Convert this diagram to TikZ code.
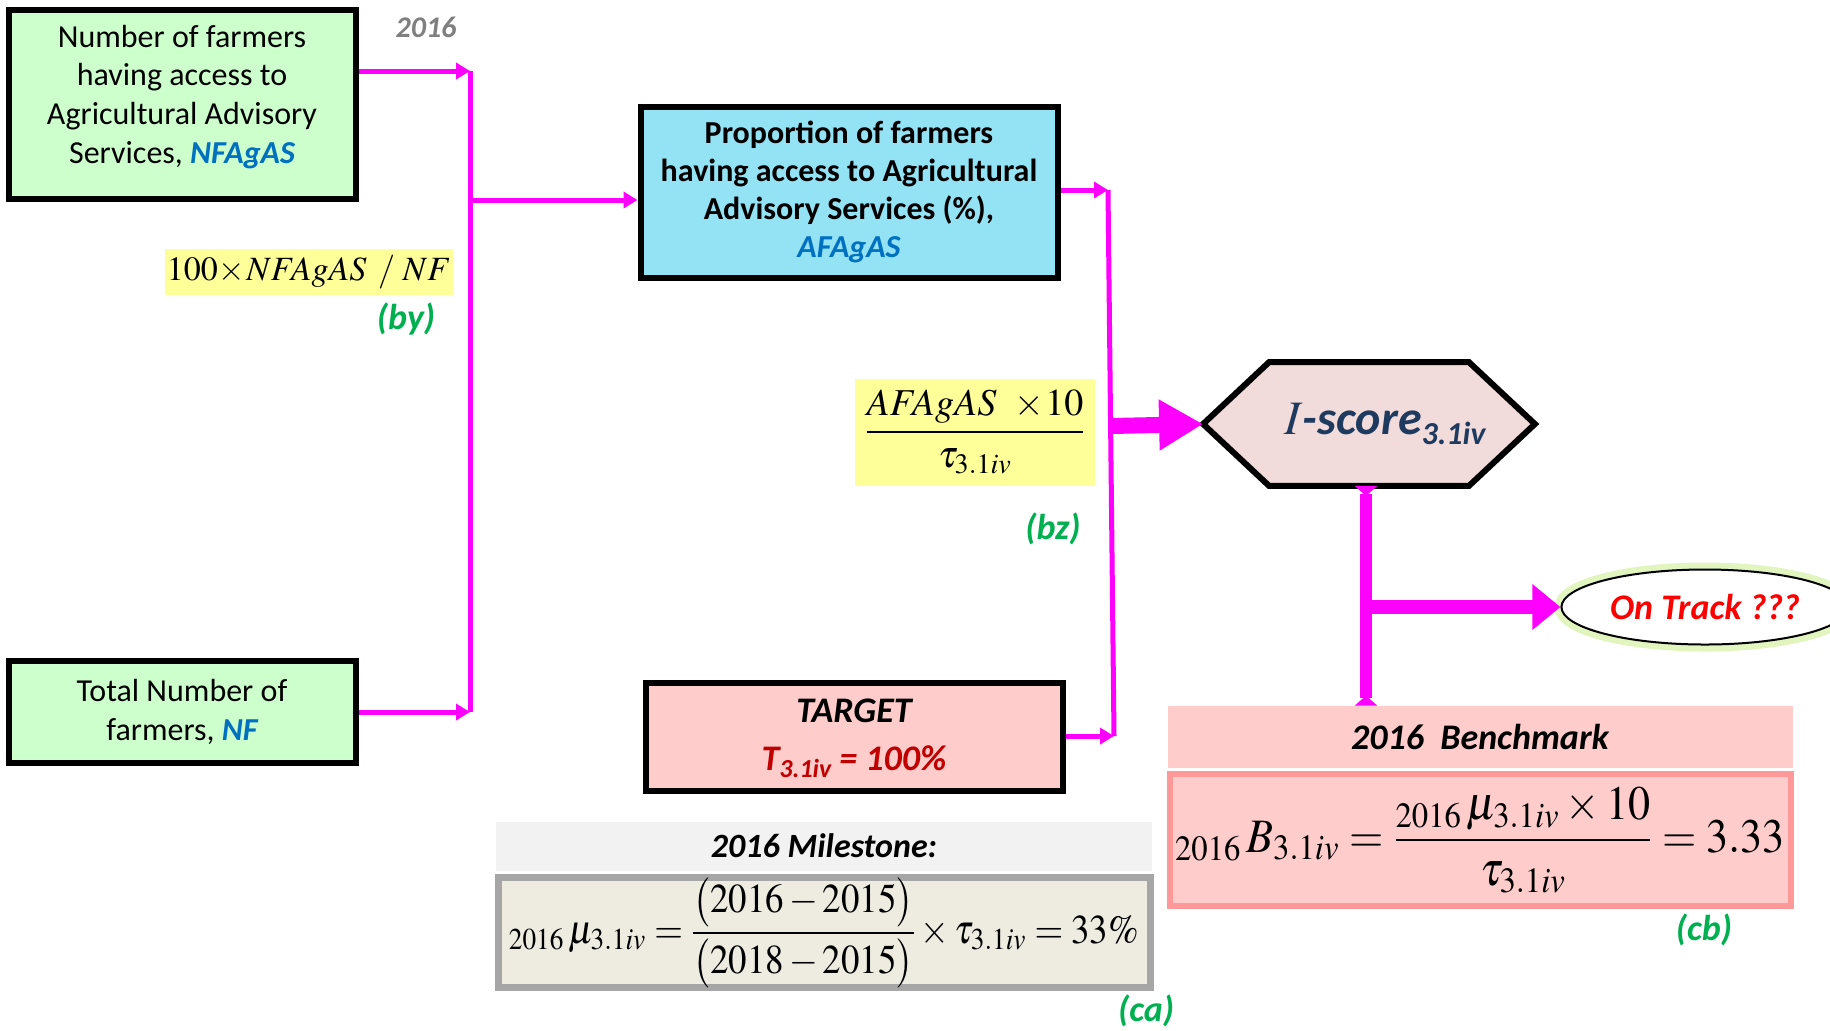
\documentclass[tikz,border=0pt]{standalone}
\usepackage{amsmath}
\usepackage{mathptmx}
\usepackage{graphicx}
\usepackage[no-math]{fontspec}
\setmainfont{Carlito}
\usetikzlibrary{arrows.meta,positioning,shapes.geometric,backgrounds}

\definecolor{mag}{HTML}{FF00FF}
\definecolor{boxgreen}{HTML}{CCFFCC}
\definecolor{boxblue}{HTML}{93E3F5}
\definecolor{txtblue}{HTML}{0070C0}
\definecolor{lblgreen}{HTML}{00B050}
\definecolor{hlyellow}{HTML}{FFFF99}
\definecolor{hexfill}{HTML}{F2DCDB}
\definecolor{hextext}{HTML}{1F3A5F}
\definecolor{tgtfill}{HTML}{FFCCCC}
\definecolor{tgtred}{HTML}{C00000}
\definecolor{mshead}{HTML}{F2F2F2}
\definecolor{msfill}{HTML}{EEECE1}
\definecolor{msdraw}{HTML}{A6A6A6}
\definecolor{bmdraw}{HTML}{FF9999}
\definecolor{glow}{HTML}{E2F5BE}
\definecolor{yeargray}{HTML}{7F7F7F}

\newcommand{\lowsub}[2]{\raisebox{-0.4ex}{\fontsize{#1}{#1}\selectfont #2}}

\begin{document}
\begin{tikzpicture}[x=0.5pt,y=-0.5pt,line join=miter,
	box/.style={draw=black,line width=3pt,align=center,inner sep=2pt,font=\fontsize{16}{19.3}\selectfont},
	lbl/.style={font=\fontsize{18}{20}\selectfont\bfseries\itshape,text=lblgreen},
	hl/.style={fill=hlyellow,inner sep=0pt},
	wire/.style={draw=mag,line width=2.5pt},
	tip/.style={-{Triangle[length=7pt,width=8pt]}}]
	\useasboundingbox (0,0) rectangle (1830,1030);
	% inputs
	\node[box,fill=boxgreen,minimum width=173.5pt,minimum height=94.5pt,text depth=10pt] (nfagas) at (182,104)
		{Number of farmers\\having access to\\Agricultural Advisory\\Services, \textcolor{txtblue}{\bfseries\itshape NFAgAS}};
	\node[box,fill=boxgreen,minimum width=173.5pt,minimum height=51pt] (nf) at (182,712)
		{Total Number of\\farmers, \textcolor{txtblue}{\bfseries\itshape NF}};
	\node[font=\fontsize{15}{18}\selectfont\bfseries\itshape,text=yeargray] (year) at (426,27) {2016};
	\node[hl,minimum width=144pt,minimum height=23pt,font=\fontsize{17}{18}\selectfont] (eqa) at (309,272)
		{$100\!\times\! NFAgAS\ \,/\ NF$};
	\node[lbl] (by) at (406,319) {(by)};
	% indicator
	\node[box,fill=boxblue,minimum width=208.5pt,minimum height=85.5pt,font=\fontsize{16}{19}\selectfont\bfseries] (afagas) at (849,192)
		{Proportion of farmers\\having access to Agricultural\\Advisory Services (\%),\\\textcolor{txtblue}{\itshape AFAgAS}};
	\node[hl,minimum width=120pt,minimum height=53.5pt,font=\fontsize{19}{22}\selectfont] (eqb) at (975,432)
		{$\dfrac{AFAgAS\ \,\times\!10}{\tau_{3.1iv}}$};
	\node[lbl] (bz) at (1053,529) {(bz)};
	\node[box,fill=tgtfill,minimum width=208.5pt,minimum height=54pt,font=\fontsize{18}{24}\selectfont\bfseries\itshape,text depth=2pt] (target) at (854,737)
		{TARGET\\\textcolor{tgtred}{T\lowsub{13}{3.1iv} = 100\%}};
	% score
	\node[minimum width=165.5pt,minimum height=61.5pt,inner sep=0pt,text=hextext,font=\fontsize{24}{28}\selectfont\bfseries\itshape] (iscore) at (1369,424)
		{\hspace*{16pt}$I$-score\lowsub{16}{3.1iv}};
	\begin{pgfonlayer}{background}
		\draw[black,line width=3pt,fill=hexfill] (iscore.west) -- ([xshift=33pt]iscore.north west) -- ([xshift=-33pt]iscore.north east)
			-- (iscore.east) -- ([xshift=-33pt]iscore.south east) -- ([xshift=33pt]iscore.south west) -- cycle;
	\end{pgfonlayer}
	\node[ellipse,draw=black,line width=1pt,fill=white,preaction={draw=glow,line width=7pt},
		minimum width=129pt,minimum height=37.5pt,text=red,font=\fontsize{18}{20}\selectfont\bfseries\itshape] (ontrack) at (1705,607)
		{On Track ???};
	% milestone and benchmark
	\node[fill=mshead,minimum width=328pt,minimum height=24.5pt,font=\fontsize{17}{20}\selectfont\bfseries\itshape] (mhead) at (824,846)
		{2016 Milestone:};
	\node[draw=msdraw,line width=3.5pt,fill=msfill,minimum width=326pt,minimum height=52.5pt,inner sep=0pt,
		font=\fontsize{20.5}{24}\selectfont,below=1.75pt of mhead] (mbox)
		{\scalebox{0.9}[1]{${}_{2016}\,\mu_{3.1iv}=\dfrac{\bigl(2016-2015\bigr)}{\bigl(2018-2015\bigr)}\times\tau_{3.1iv}=33\%$}};
	\node[lbl] (ca) at (1146,1011) {(ca)};
	\node[fill=tgtfill,minimum width=312.5pt,minimum height=31pt,font=\fontsize{18}{20}\selectfont\bfseries\itshape] (bhead) at (1480,737)
		{2016\ \ Benchmark};
	\node[draw=bmdraw,line width=3pt,fill=tgtfill,minimum width=310.5pt,minimum height=66pt,inner sep=0pt,
		font=\fontsize{24}{28}\selectfont,below=1.5pt of bhead] (bbox)
		{\scalebox{0.92}[1]{${}_{2016}\,B_{3.1iv}=\dfrac{{}_{2016}\,\mu_{3.1iv}\times 10}{\tau_{3.1iv}}=3.33$}};
	\node[lbl] (cb) at (1704,930) {(cb)};
	% connectors
	\coordinate (ja) at (470,71);
	\coordinate (jb) at (470,712);
	\coordinate (jc) at (470,200);
	\coordinate (jd) at (1108,190);
	\coordinate (je) at (1114,736);
	\coordinate (jf) at (1111,426);
	\coordinate (jg) at (1366,607);
	\draw[wire,tip] (nfagas.east |- ja) -- (ja);
	\draw[wire,tip] (nf.east) -- (jb);
	\draw[wire] (ja) -- (jb);
	\draw[wire,tip] (jc) -- (afagas.west |- jc);
	\draw[wire,tip] (afagas.east |- jd) -- (jd);
	\draw[wire,tip] (target.east |- je) -- (je);
	\draw[wire] (jd) -- (je);
	\draw[draw=mag,line width=8pt,-{Triangle[length=22pt,width=24pt]}] (jf) -- (iscore.west);
	\draw[draw=mag,line width=6pt,{Triangle[reversed,length=5pt,width=11pt]}-{Triangle[reversed,length=5pt,width=11pt]}]
		(jg |- iscore.south) -- (jg |- bhead.north);
	\draw[draw=mag,line width=7pt,-{Triangle[length=14pt,width=22pt]}] (jg) -- (ontrack.west);
\end{tikzpicture}
\end{document}
